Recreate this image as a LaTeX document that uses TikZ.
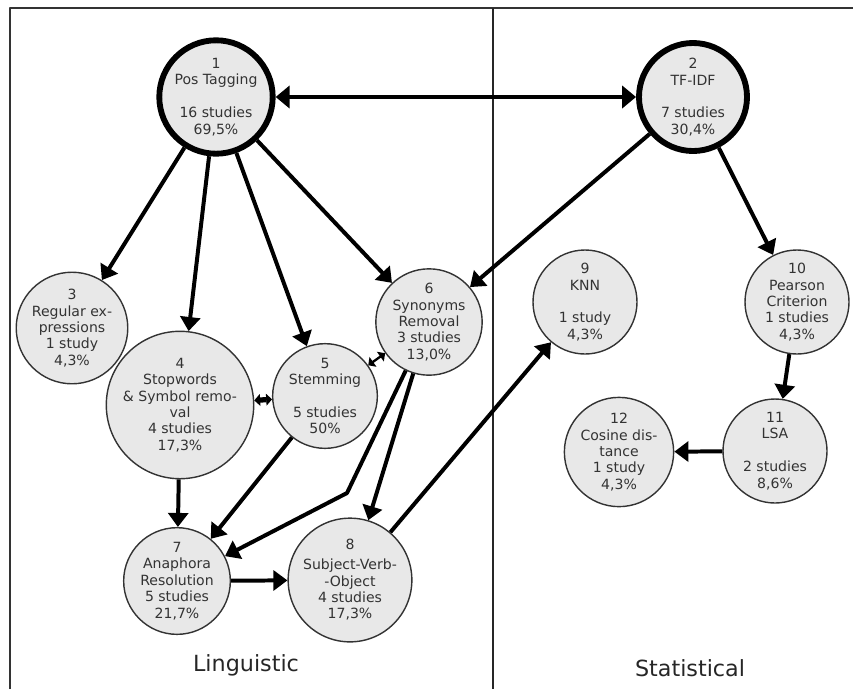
\documentclass[tikz,border=0pt]{standalone}
\usepackage{fontspec}
\setmainfont{DejaVu Sans}
\usetikzlibrary{arrows.meta}

\begin{document}
\begin{tikzpicture}[x=0.03cm,y=-0.03cm,line join=round,
  topic/.style={circle,draw=black!80,line width=1.2pt,fill=black!9,text=black!80,
    minimum size=3.12cm,inner sep=0pt,align=center,
    font=\fontsize{12}{14}\selectfont},
  maintopic/.style={topic,draw=black,line width=5pt,minimum size=3.24cm},
  link/.style={line width=3.4pt,-{Triangle[length=12pt,width=17pt]}},
  biglink/.style={line width=3.4pt,{Triangle[length=12pt,width=19pt]}-{Triangle[length=12pt,width=19pt]}},
  shortlink/.style={line width=#1,{Triangle[length=5pt,width=10pt]}-{Triangle[length=5pt,width=10pt]}}]
  \useasboundingbox (0,0) rectangle (853,689);
  % 框与分隔线
  \draw[line width=1.6pt,black!80] (10,689) -- (10,8) -- (853,8);
  \draw[line width=1.2pt,black!85] (493,8) -- (493,689);
  % 语言学方法
  \node[maintopic] (pos) at (216,97) {1\\Pos Tagging\\~\\16 studies\\69,5\%};
  \node[topic] (regex) at (72,328) {3\\Regular ex-\\pressions\\1 study\\4,3\%};
  \node[topic,minimum size=3.48cm] (stop) at (180,405) {4\\Stopwords\\\& Symbol remo-\\val\\4 studies\\17,3\%};
  \node[topic] (stem) at (325,396) {5\\Stemming\\~\\5 studies\\50\%};
  \node[topic] (syn) at (429,322) {6\\Synonyms\\Removal\\3 studies\\13,0\%};
  \node[topic] (anaph) at (177,581) {7\\Anaphora\\Resolution\\5 studies\\21,7\%};
  \node[topic] (svo) at (350,580) {8\\[3pt]Subject-Verb-\\-Object\\4 studies\\17,3\%};
  % 统计方法
  \node[maintopic] (tfidf) at (693,97) {2\\TF-IDF\\~\\7 studies\\30,4\%};
  \node[topic] (knn) at (585,302) {9\\KNN\\~\\1 study\\4,3\%};
  \node[topic] (pearson) at (797,302) {10\\Pearson\\Criterion\\1 studies\\4,3\%};
  \node[topic] (lsa) at (775,451) {11\\LSA\\~\\2 studies\\8,6\%};
  \node[topic] (cosine) at (619,452) {12\\Cosine dis-\\tance\\1 study\\4,3\%};
  % 连线
  \draw[biglink] (pos) -- (tfidf);
  \draw[link] (pos) -- (regex);
  \draw[link] (pos) -- (stop);
  \draw[link] (pos) -- (stem);
  \draw[link] (pos) -- (syn);
  \draw[link] (tfidf) -- (syn);
  \draw[link] (tfidf) -- (pearson);
  \draw[link] (pearson) -- (lsa);
  \draw[link] (lsa) -- (cosine);
  \draw[shortlink=4.5pt] (stop) -- (stem);
  \draw[shortlink=2pt] (stem) -- (syn);
  \draw[link] (stop) -- (anaph);
  \draw[link] (stem) -- (anaph);
  \coordinate (kink) at (347,493);
  \draw[link] (syn) -- (kink) -- (anaph);
  \draw[link] (syn) -- (svo);
  \draw[link] (anaph) -- (svo);
  \draw[link] (svo) -- (knn);
  % 区域名称
  \node[font=\fontsize{19}{22}\selectfont,text=black!85] (ling) at (246,665) {Linguistic};
  \node[font=\fontsize{19}{22}\selectfont,text=black!85] (stat) at (690,668) {Statistical};
\end{tikzpicture}
\end{document}
